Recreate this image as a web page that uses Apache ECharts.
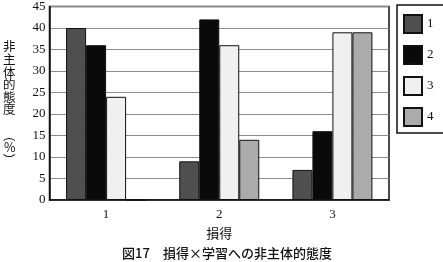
<!DOCTYPE html>
<html><head><meta charset="utf-8">
<script src="https://cdn.jsdelivr.net/npm/echarts@6/dist/echarts.min.js"></script>
<style>html,body{margin:0;padding:0;background:#fff}#c{width:443px;height:262px}</style>
</head><body><div id="c"></div>
<script>
const categories = ['1', '2', '3'];
const seriesNames = ['1', '2', '3', '4'];
const s1 = [40, 9, 7];
const s2 = [36, 42, 16];
const s3 = [24, 36, 39];
const s4 = [0, 14, 39];
const yTicks = [0, 5, 10, 15, 20, 25, 30, 35, 40, 45];
const colors = ['#4f4f4f', '#0a0a0a', '#f0f0f0', '#ababab'];
const values = [s1, s2, s3, s4];

const chart = echarts.init(document.getElementById('c'));
const serif = 'Liberation Serif';
const cjk = 'Noto Sans CJK JP';
chart.setOption({
  animation: false,
  backgroundColor: '#fff',
  title: {
    text: '図17　損得×学習への非主体的態度',
    left: 222, top: 242, textAlign: 'center',
    textStyle: { fontFamily: cjk, fontSize: 13, fontWeight: 500, color: '#111' }
  },
  grid: { left: 45, top: 4, width: 344, height: 196, show: true, borderColor: '#111', borderWidth: 1.5, backgroundColor: 'transparent' },
  legend: {
    orient: 'vertical', left: 397, top: 5,
    data: seriesNames,
    icon: 'rect', itemWidth: 18, itemHeight: 18, itemGap: 11,
    padding: [9, 11, 6, 6],
    borderColor: '#111', borderWidth: 1.5,
    textStyle: { fontFamily: serif, fontSize: 13, color: '#111', lineHeight: 18 }
  },
  xAxis: {
    type: 'category', data: categories,
    name: '損得', nameLocation: 'middle', nameGap: 27,
    nameTextStyle: { fontFamily: cjk, fontSize: 13, color: '#111' },
    axisLine: { lineStyle: { color: '#111', width: 1.5 } },
    axisTick: { inside: true, length: 4, lineStyle: { color: '#111' } },
    axisLabel: { fontFamily: serif, fontSize: 13, color: '#111', margin: 8 }
  },
  yAxis: {
    type: 'value', min: yTicks[0], max: yTicks[yTicks.length - 1], interval: 5,
    name: ['非', '主', '体', '的', '態', '度', '', '︵', '%', '︶'].join('\n'),
    nameLocation: 'middle', nameGap: 34, nameRotate: 0,
    nameTextStyle: { fontFamily: cjk, fontSize: 12.5, color: '#111', lineHeight: 12.6, padding: [8, 0, 0, 0] },
    axisLine: { show: true, lineStyle: { color: '#111', width: 1.5 } },
    axisTick: { show: false },
    axisLabel: { fontFamily: serif, fontSize: 13, color: '#111', margin: 4 },
    splitLine: { lineStyle: { color: '#8c8c8c', width: 1.2 } }
  },
  series: seriesNames.map((n, i) => ({
    name: n, type: 'bar', data: values[i],
    barWidth: 20, barGap: '0%',
    itemStyle: { color: colors[i], borderColor: '#111', borderWidth: 1 }
  }))
});
</script></body></html>
